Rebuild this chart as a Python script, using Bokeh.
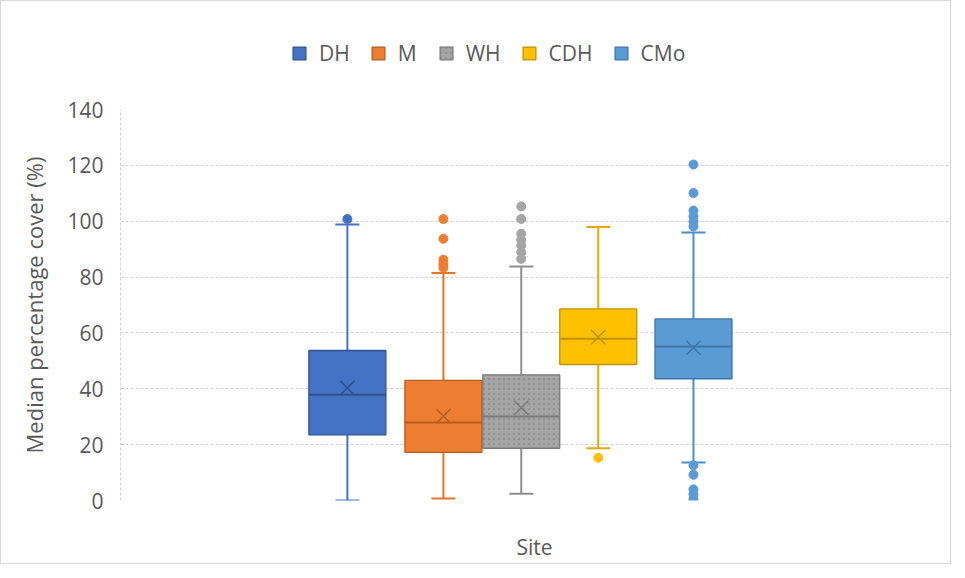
from bokeh.plotting import figure
from bokeh.layouts import column
from bokeh.models import Range1d, ColumnDataSource, Legend, LegendItem, FixedTicker
from bokeh.embed import file_html
from bokeh.resources import INLINE

# ---- data ----
sites = ["DH", "M", "WH", "CDH", "CMo"]
q1 = [23.5, 17.2, 18.7, 48.7, 43.6]
q3 = [53.7, 43.0, 45.0, 68.6, 65.0]
medians = [37.9, 27.9, 30.1, 57.9, 55.1]
means = [40.3, 30.2, 33.2, 58.5, 54.7]
whisker_low = [0.0, 0.7, 2.4, 18.7, 13.6]
whisker_high = [98.8, 81.5, 83.8, 97.9, 96.0]
outliers_DH = [100.8]
outliers_M = [100.8, 93.7, 86.2, 84.7, 83.3]
outliers_WH = [105.3, 100.8, 95.5, 93.3, 91.3, 88.9, 86.5]
outliers_CDH = [15.3]
outliers_CMo = [120.3, 110.1, 103.8, 101.8, 99.9, 98.1, 12.6, 9.2, 4.0, 2.2, 0.6]
outliers = [outliers_DH, outliers_M, outliers_WH, outliers_CDH, outliers_CMo]
y_ticks = [0, 20, 40, 60, 80, 100, 120, 140]

# ---- styles / layout ----
fills = ["#4472C4", "#ED7D31", "#A5A5A5", "#FFC000", "#5B9BD5"]
darks = ["#2F528F", "#B55D22", "#7B7B7B", "#C49300", "#3F75A8"]
whisk = ["#4472C4", "#E57528", "#8E8E8E", "#E3AA00", "#4E8CC8"]
centers = [0.274, 0.390, 0.484, 0.577, 0.692]
box_w = 0.093
cap_w = 0.029
FONT = "Open Sans"
TXT = "#595959"
W = 949
LEG_H = 95
MAIN_H = 562 - LEG_H


def hatch_kw(s):
    if s == "WH":
        return dict(hatch_pattern="dot", hatch_color="#929292", hatch_scale=5, hatch_weight=0.7)
    return {}


# ---- legend strip (own small figure above the chart) ----
pl = figure(width=W, height=LEG_H, x_range=Range1d(0, 1), y_range=Range1d(0, 1),
            output_backend="svg", toolbar_location=None,
            min_border_left=0, min_border_right=0, min_border_top=0, min_border_bottom=0)
pl.axis.visible = False
pl.grid.visible = False
pl.outline_line_color = None
leg_items = []
for i, s in enumerate(sites):
    # swatch-only renderers, kept outside the visible range
    src = ColumnDataSource(dict(left=[5], right=[6], bottom=[5], top=[6]))
    r = pl.quad(left="left", right="right", bottom="bottom", top="top", source=src,
                fill_color=fills[i], line_color=darks[i], line_width=1.3, **hatch_kw(s))
    leg_items.append(LegendItem(label=s, renderers=[r]))
legend = Legend(items=leg_items, orientation="horizontal", location=(171, 29),
                glyph_width=16, glyph_height=16, label_standoff=12, spacing=20,
                padding=0, margin=0, border_line_color=None, background_fill_alpha=0,
                label_text_font=FONT, label_text_font_size="21px", label_text_color=TXT)
pl.add_layout(legend, "center")

# ---- main chart ----
p = figure(width=W, height=MAIN_H, x_range=Range1d(0, 1), y_range=Range1d(0, 140),
           output_backend="svg", toolbar_location=None,
           min_border_left=119, min_border_right=2, min_border_top=109 - LEG_H - 1, min_border_bottom=63)
p.outline_line_color = None

p.xgrid.visible = False
p.ygrid.ticker = FixedTicker(ticks=y_ticks)
p.ygrid.grid_line_color = "#D0D0D0"
p.ygrid.grid_line_dash = "3 2"
p.ygrid.grid_line_width = 1

p.yaxis.ticker = FixedTicker(ticks=y_ticks)
p.yaxis.major_tick_line_color = None
p.yaxis.minor_tick_line_color = None
p.yaxis.axis_line_color = "#D0D0D0"
p.yaxis.axis_line_dash = "3 2"
p.yaxis.major_label_text_font = FONT
p.yaxis.major_label_text_font_size = "21px"
p.yaxis.major_label_text_color = TXT
p.yaxis.major_label_standoff = 11
p.yaxis.axis_label = "Median percentage cover (%)"
p.yaxis.axis_label_text_font = FONT
p.yaxis.axis_label_text_font_size = "22px"
p.yaxis.axis_label_text_font_style = "normal"
p.yaxis.axis_label_text_color = TXT
p.yaxis.axis_label_standoff = 15

p.xaxis.ticker = FixedTicker(ticks=[])
p.xaxis.axis_line_color = None
p.xaxis.major_tick_line_color = None
p.xaxis.minor_tick_line_color = None
p.xaxis.major_label_text_font_size = "0px"
p.xaxis.axis_label = "Site"
p.xaxis.axis_label_text_font = FONT
p.xaxis.axis_label_text_font_size = "21px"
p.xaxis.axis_label_text_font_style = "normal"
p.xaxis.axis_label_text_color = TXT
p.xaxis.axis_label_standoff = 32

for i, s in enumerate(sites):
    c = centers[i]
    # whiskers
    p.segment(x0=[c, c], y0=[q3[i], q1[i]], x1=[c, c], y1=[whisker_high[i], whisker_low[i]],
              line_color=whisk[i], line_width=2)
    p.segment(x0=[c - cap_w / 2] * 2, y0=[whisker_high[i], whisker_low[i]],
              x1=[c + cap_w / 2] * 2, y1=[whisker_high[i], whisker_low[i]],
              line_color=whisk[i], line_width=2)
    # box
    src = ColumnDataSource(dict(left=[c - box_w / 2], right=[c + box_w / 2], bottom=[q1[i]], top=[q3[i]]))
    p.quad(left="left", right="right", bottom="bottom", top="top", source=src,
           fill_color=fills[i], line_color=darks[i], line_width=1.3, **hatch_kw(s))
    # median
    p.segment(x0=[c - box_w / 2], y0=[medians[i]], x1=[c + box_w / 2], y1=[medians[i]],
              line_color=darks[i], line_width=2)
    # mean
    p.scatter(x=[c], y=[means[i]], marker="x", size=20, line_color=darks[i], line_width=1.5)
    # outliers
    p.scatter(x=[c] * len(outliers[i]), y=outliers[i], marker="circle", size=9,
              fill_color=fills[i], line_color=fills[i])

layout = column(pl, p, spacing=0)
layout.styles = {"border": "1px solid #D9D9D9"}

open("out.html", "w").write(file_html(layout, INLINE))
